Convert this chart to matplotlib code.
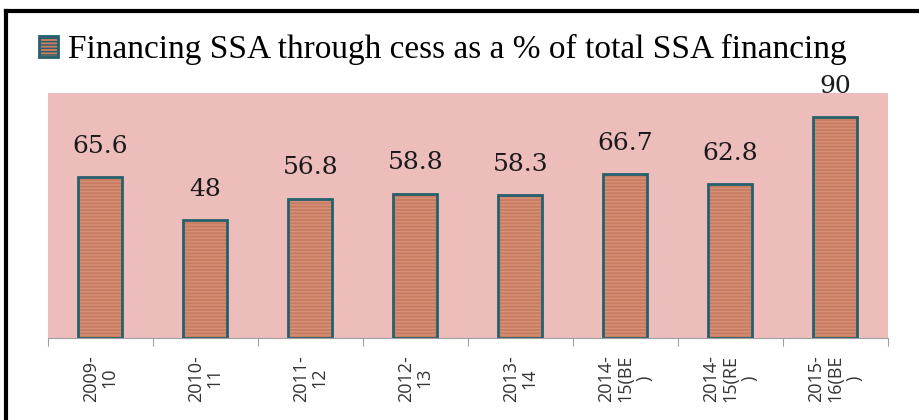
import matplotlib.pyplot as plt
from matplotlib.lines import Line2D
from matplotlib.patches import Patch

years = ['2009-\n10', '2010-\n11', '2011-\n12', '2012-\n13', '2013-\n14',
         '2014-\n15(BE\n)', '2014-\n15(RE\n)', '2015-\n16(BE\n)']
share = [65.6, 48, 56.8, 58.8, 58.3, 66.7, 62.8, 90]
labels = ['65.6', '48', '56.8', '58.8', '58.3', '66.7', '62.8', '90']

bar_col = '#c97c60'
stripe_col = '#d4917a'
edge_col = '#25606d'
bg_col = '#ecbdbb'

fig = plt.figure(figsize=(9.2, 4.2), dpi=100)
ax = fig.add_axes([0.052, 0.195, 0.913, 0.584])
ax.set_facecolor(bg_col)
x = range(len(share))
ax.bar(x, share, width=0.42, color=bar_col, edgecolor=stripe_col, linewidth=0, hatch='-----')
ax.bar(x, share, width=0.42, fill=False, edgecolor=edge_col, linewidth=2)
for i, (v, t) in enumerate(zip(share, labels)):
    ax.annotate(t, (i, v), xytext=(0, 14), textcoords='offset points', ha='center', va='bottom',
                fontsize=18, family='DejaVu Serif', color='#1a1a1a', annotation_clip=False)
ax.set_xlim(-0.5, len(share) - 0.5)
ax.set_ylim(0, 100)
ax.set_yticks([])
for s in ['top', 'right', 'left']:
    ax.spines[s].set_visible(False)
ax.spines['bottom'].set_color('#a0a0a0')
ax.set_xticks([i + 0.5 for i in range(-1, len(share))], minor=False)
ax.set_xticklabels([])
ax.tick_params(axis='x', which='major', length=6, color='#a0a0a0')
ax.set_xticks(list(x), minor=True)
ax.set_xticklabels(years, minor=True, rotation=90, fontsize=13, family='Open Sans', color='#333333',
                   va='top', ha='center', multialignment='center', linespacing=1.05)
ax.tick_params(axis='x', which='minor', length=0, pad=12)

h = Patch(facecolor=bar_col, edgecolor=edge_col, linewidth=2, hatch='-----')
fig.legend([h], ['Financing SSA through cess as a % of total SSA financing'], loc='upper left',
           bbox_to_anchor=(0.01, 0.99), frameon=False, prop={'family': 'Liberation Serif', 'size': 24},
           handlelength=0.55, handleheight=0.55, handletextpad=0.3)

fig.add_artist(Line2D([0.006, 1.0], [0.975, 0.975], color='black', linewidth=3, transform=fig.transFigure))
fig.add_artist(Line2D([0.006, 0.006], [0.975, 0.0], color='black', linewidth=3, transform=fig.transFigure))

fig.savefig('out.png', dpi=100)
